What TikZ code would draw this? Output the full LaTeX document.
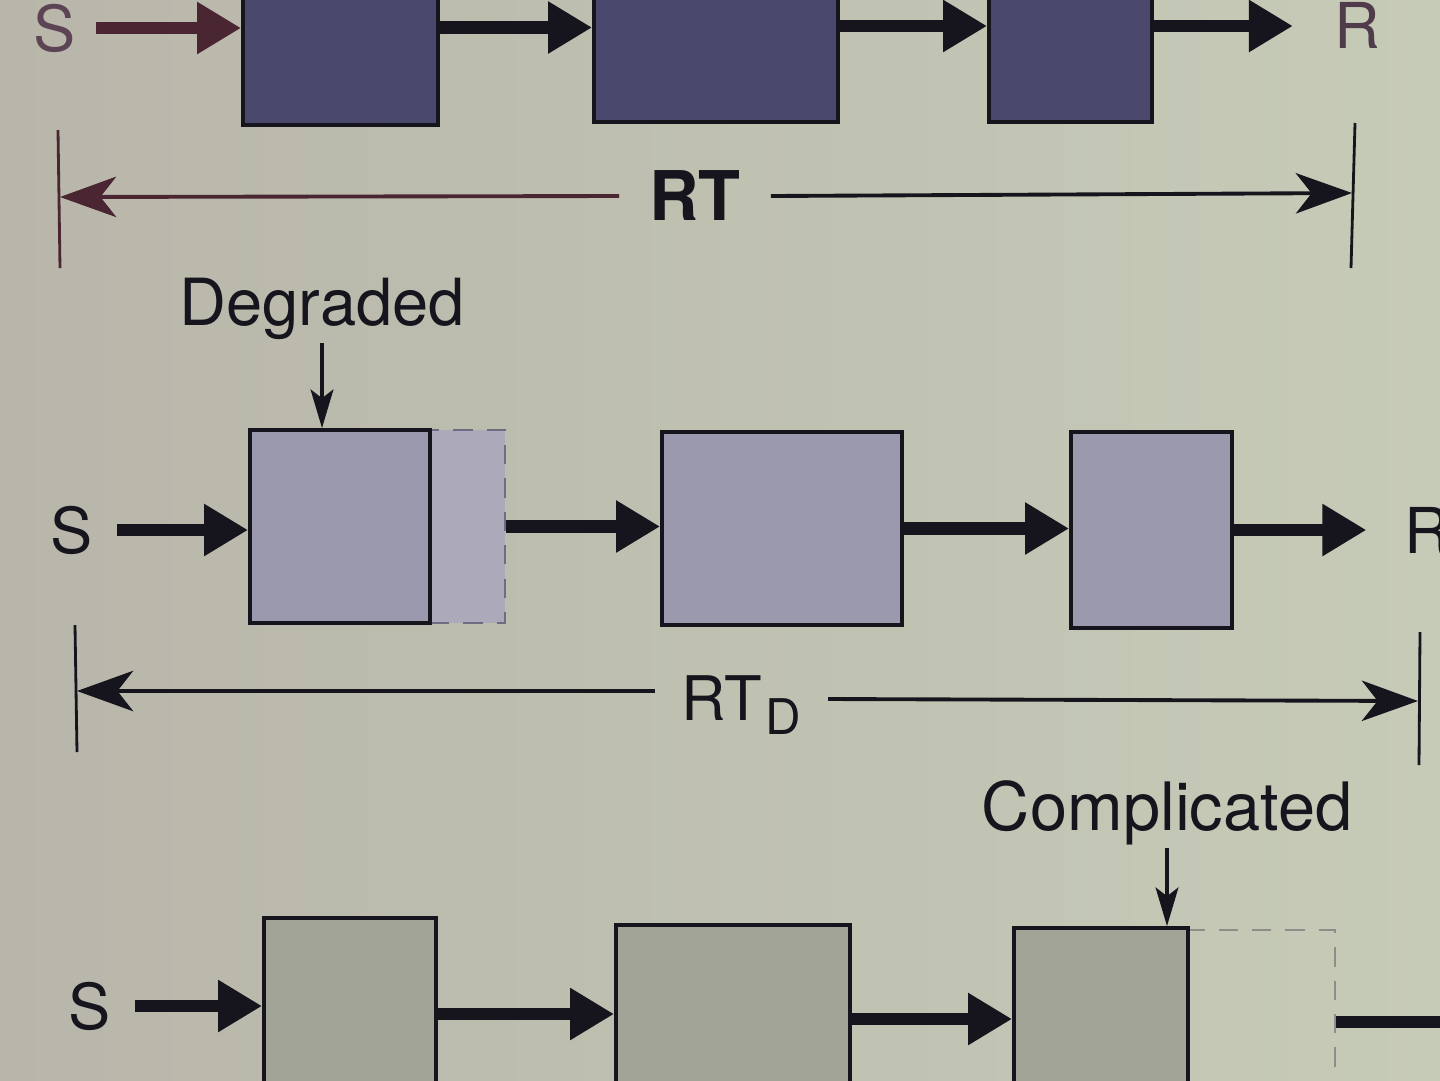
\documentclass[tikz,border=0pt]{standalone}
\usepackage{fontspec}
\setmainfont{TeX Gyre Heros}
\usetikzlibrary{arrows.meta,fit}
\definecolor{bgL}{HTML}{B8B6AA}
\definecolor{bgR}{HTML}{C6CBB7}
\definecolor{topbox}{HTML}{4B486E}
\definecolor{midbox}{HTML}{9A99AD}
\definecolor{midext}{HTML}{ABA9BA}
\definecolor{botbox}{HTML}{A2A497}
\definecolor{ink}{HTML}{16151E}
\definecolor{inkred}{HTML}{4A2632}
\definecolor{inkS}{HTML}{5D4455}
\definecolor{dashgray}{HTML}{6E6C80}
\definecolor{dashlight}{HTML}{8C8E87}
\begin{document}
\begin{tikzpicture}[x=0.02cm,y=-0.02cm,
  blk/.style={draw=ink, line width=2.2pt, inner sep=0pt},
  extbox/.style={draw=dashgray, line width=1.6pt, dash pattern=on 11pt off 8pt, inner sep=0pt},
  flow/.style={draw=ink, line width=7pt, -{Triangle[length=25pt,width=28pt]}},
  dimline/.style={draw=ink, line width=2.2pt, -{Stealth[length=32pt,width=23pt,inset=9pt]}},
  tickline/.style={draw=ink, line width=1.6pt},
  pointer/.style={draw=ink, line width=1.8pt, -{Stealth[length=22pt,width=13pt,inset=5pt]}},
  lbl/.style={text=ink, font=\fontsize{36}{36}\selectfont},
]
\useasboundingbox (0,0) rectangle (1440,1080);
\clip (0,0) rectangle (1440,1080);
\fill[left color=bgL, right color=bgR] (0,0) rectangle (1440,1080);

% ---------- top row ----------
\node[blk, fill=topbox, fit={(243,-70) (438,125)}] (t1) {};
\node[blk, fill=topbox, fit={(594,-70) (838,122)}] (t2) {};
\node[blk, fill=topbox, fit={(989,-70) (1152,122)}] (t3) {};
\node[lbl, text=inkS] (ts) at (55,28) {S};
\node[lbl, text=inkS!80!ink, anchor=west] (tr) at (1328,25) {R};
\draw[flow, draw=inkred, shorten <=8pt] (ts.east) -- (ts.east -| t1.west);
\draw[flow] (t1.east) -- (t1.east -| t2.west);
\draw[flow] (t2.east) -- (t2.east -| t3.west);
\draw[flow, shorten >=20pt] (t3.east) -- (t3.east -| tr.west);

% RT dimension
\coordinate (l1a) at (58,130); \coordinate (l1b) at (60,268);
\coordinate (r1a) at (1355,123); \coordinate (r1b) at (1351,268);
\draw[tickline, draw=inkred] (l1a) -- (l1b);
\draw[tickline] (r1a) -- (r1b);
\coordinate (l1m) at (60,197); \coordinate (r1m) at (1352,193);
\node[font=\bfseries\fontsize{39}{39}\selectfont, text=ink, inner xsep=17pt, inner ysep=0pt] (rt) at (695,196) {RT};
\draw[dimline, draw=inkred] (rt.west) -- (l1m);
\draw[dimline] (rt.east) -- (r1m);

% ---------- middle row ----------
\node[extbox, fill=midext, fit={(430,430) (505,623)}] (mx) {};
\node[blk, fill=midbox, fit={(250,430) (430,623)}] (m1) {};
\node[blk, fill=midbox, fit={(662,432) (902,625)}] (m2) {};
\node[blk, fill=midbox, fit={(1071,432) (1232,628)}] (m3) {};
\node[lbl] (ms) at (72,530) {S};
\node[lbl, anchor=west] (mr) at (1398,530) {R};
\draw[flow, shorten <=10pt] (ms.east) -- (ms.east -| m1.west);
\draw[flow] (mx.east) -- (mx.east -| m2.west);
\draw[flow] (m2.east) -- (m2.east -| m3.west);
\draw[flow, shorten >=18pt] (m3.east) -- (m3.east -| mr.west);

\node[text=ink, font=\fontsize{37}{37}\selectfont, anchor=base, inner sep=2pt] (deg) at (322,325) {Degraded};
\draw[pointer] (deg.south) -- (deg.south |- m1.north);

% RT_D dimension
\coordinate (l2a) at (75,625); \coordinate (l2b) at (77,752);
\coordinate (r2a) at (1420,632); \coordinate (r2b) at (1419,765);
\draw[tickline] (l2a) -- (l2b);
\draw[tickline] (r2a) -- (r2b);
\node[text=ink, font=\fontsize{35}{35}\selectfont, anchor=base, inner sep=0pt] (rtd) at (741,720) {RT\hspace{2pt}\raisebox{-8.5pt}{\fontsize{28}{28}\selectfont D}};
\coordinate (rtdL) at (655,691); \coordinate (rtdR) at (828,699);
\coordinate (l2m) at (77,691); \coordinate (r2m) at (1418,701);
\draw[dimline] (rtdL) -- (l2m);
\draw[dimline] (rtdR) -- (r2m);

% ---------- bottom row ----------
\node[draw=dashlight, line width=1.6pt, dash pattern=on 11pt off 8pt, inner sep=0pt, fit={(1188,930) (1335,1120)}] (bx) {};
\node[blk, fill=botbox, fit={(264,918) (436,1120)}] (b1) {};
\node[blk, fill=botbox, fit={(616,925) (850,1120)}] (b2) {};
\node[blk, fill=botbox, fit={(1014,928) (1188,1120)}] (b3) {};
\node[lbl] (bs) at (90,1006) {S};
\draw[flow, shorten <=10pt] (bs.east) -- (bs.east -| b1.west);
\coordinate (a1) at (436,1014); \coordinate (a2) at (850,1019);
\draw[flow] (b1.east |- a1) -- (b2.west |- a1);
\draw[flow] (b2.east |- a2) -- (b3.west |- a2);
\coordinate (bend) at (1490,1022);
\draw[flow] (bx.east |- bend) -- (bend);

\node[text=ink, font=\fontsize{38}{38}\selectfont, anchor=base, inner sep=2pt] (comp) at (1167,830) {Complicated};
\draw[pointer] (comp.south) -- (comp.south |- b3.north);
\end{tikzpicture}
\end{document}
